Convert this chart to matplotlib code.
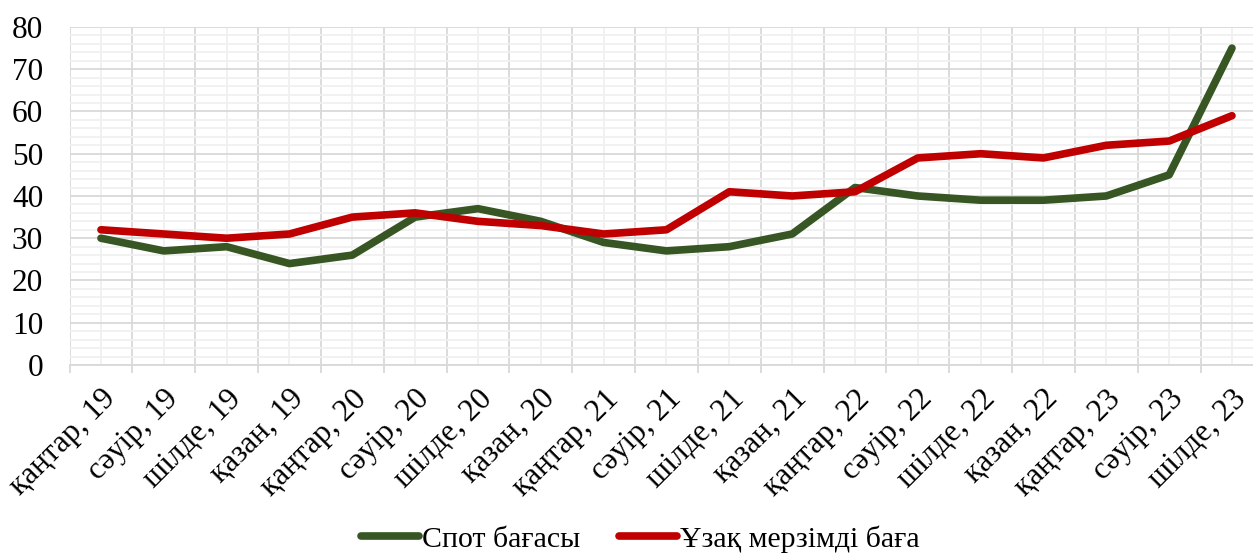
import matplotlib.pyplot as plt
from matplotlib.ticker import MultipleLocator, FixedLocator
from matplotlib.transforms import ScaledTranslation

plt.rcParams['font.family'] = ['Liberation Serif', 'DejaVu Serif']

months = ['қаңтар', 'сәуір', 'шілде', 'қазан']
years = ['19', '20', '21', '22', '23']
labels = [f'{months[i % 4]}, {years[i // 4]}' for i in range(19)]

spot = [30, 27, 28, 24, 26, 35, 37, 34, 29, 27, 28, 31, 42, 40, 39, 39, 40, 45, 75]
longterm = [32, 31, 30, 31, 35, 36, 34, 33, 31, 32, 41, 40, 41, 49, 50, 49, 52, 53, 59]

fig = plt.figure(figsize=(12.53, 5.54), dpi=100)
ax = fig.add_axes([0.0555, 0.3412, 0.9528, 0.6101])

x = list(range(len(labels)))
ax.plot(x, spot, color='#375623', lw=5.5, solid_capstyle='round', solid_joinstyle='round',
        label='Спот бағасы', zorder=3)
ax.plot(x, longterm, color='#c00000', lw=5.5, solid_capstyle='round', solid_joinstyle='round',
        label='Ұзақ мерзімді баға', zorder=3)

ax.set_xlim(-0.5, 18.5)
ax.set_ylim(0, 80)

# labels at category centres, tick marks at boundaries
ax.set_xticks(x)
ax.set_xticklabels(labels, rotation=45, ha='right', va='top', rotation_mode='anchor')
shift = ScaledTranslation(-11 / 100, 0, fig.dpi_scale_trans)
for t in ax.get_xticklabels():
    t.set_transform(t.get_transform() + shift)
ax.xaxis.set_minor_locator(FixedLocator([i - 0.5 for i in range(20)]))
ax.yaxis.set_major_locator(MultipleLocator(10))
ax.yaxis.set_minor_locator(MultipleLocator(2))

ax.tick_params(axis='x', which='major', length=0, pad=14, labelsize=22.5)
ax.tick_params(axis='x', which='minor', length=6, width=1.3, color='#d9d9d9')
ax.tick_params(axis='y', which='both', length=0, pad=19, labelsize=22.5)

ax.grid(axis='x', which='major', color='#f0f0f0', lw=1.3)
ax.grid(axis='x', which='minor', color='#d9d9d9', lw=1.3)
ax.grid(axis='y', which='major', color='#d9d9d9', lw=1.3)
ax.grid(axis='y', which='minor', color='#f0f0f0', lw=1.3)
ax.set_axisbelow(True)

for s in ['top', 'right', 'left']:
    ax.spines[s].set_visible(False)
ax.spines['bottom'].set_color('#d9d9d9')
ax.spines['bottom'].set_linewidth(1.3)

fig.legend(loc='center', bbox_to_anchor=(0.511, 0.027), ncol=2, frameon=False,
           fontsize=21.5, handlelength=1.95, handletextpad=0.1, columnspacing=1.27)

fig.savefig('out.png', dpi=100)
